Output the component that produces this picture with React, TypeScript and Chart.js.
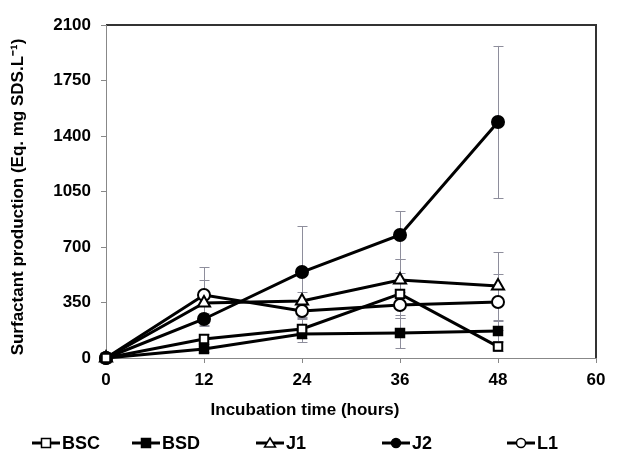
import React, { useEffect, useRef } from "react";
import { Chart, registerables } from "chart.js";

Chart.register(...registerables);

const hours = [0, 12, 24, 36, 48];
const yTicks = [0, 350, 700, 1050, 1400, 1750, 2100];
const xTicks = [0, 12, 24, 36, 48, 60];

const seriesNames = ["BSC", "BSD", "J1", "J2", "L1"];
const bscValues = [0, 120, 183, 404, 72];
const bscErrors = [0, 30, 60, 132, 30];
const bsdValues = [0, 57, 151, 158, 170];
const bsdErrors = [0, 20, 50, 95, 65];
const j1Values = [0, 347, 359, 492, 454];
const j1Errors = [0, 145, 57, 132, 214];
const j2Values = [0, 246, 542, 776, 1488];
const j2Errors = [0, 40, 290, 151, 480];
const l1Values = [0, 397, 296, 334, 353];
const l1Errors = [0, 175, 40, 82, 177];

const yTitle = "Surfactant production (Eq. mg SDS.L\u207B\u00B9)";
const xTitle = "Incubation time (hours)";

const FONT = "'Liberation Sans', Arial, sans-serif";

const styles = [
  { pointStyle: "rect", fill: "#ffffff" },
  { pointStyle: "rect", fill: "#000000" },
  { pointStyle: "triangle", fill: "#ffffff" },
  { pointStyle: "circle", fill: "#000000" },
  { pointStyle: "circle", fill: "#ffffff" },
];

const valuesList = [bscValues, bsdValues, j1Values, j2Values, l1Values];
const errorsList = [bscErrors, bsdErrors, j1Errors, j2Errors, l1Errors];

const errorBarPlugin = {
  id: "errorBars",
  beforeDatasetsDraw(chart: any) {
    const ctx = chart.ctx;
    const xs = chart.scales.x;
    const ys = chart.scales.y;
    ctx.save();
    ctx.strokeStyle = "#8e8e9c";
    ctx.lineWidth = 1;
    valuesList.forEach((vals, si) => {
      const errs = errorsList[si];
      vals.forEach((v, i) => {
        const e = errs[i];
        if (!e) return;
        const px = Math.round(xs.getPixelForValue(hours[i])) + 0.5;
        const top = ys.getPixelForValue(v + e);
        const bot = ys.getPixelForValue(v - e);
        ctx.beginPath();
        ctx.moveTo(px, top);
        ctx.lineTo(px, bot);
        ctx.moveTo(px - 5, Math.round(top) + 0.5);
        ctx.lineTo(px + 5, Math.round(top) + 0.5);
        ctx.moveTo(px - 5, Math.round(bot) + 0.5);
        ctx.lineTo(px + 5, Math.round(bot) + 0.5);
        ctx.stroke();
      });
    });
    ctx.restore();
  },
  beforeDraw(chart: any) {
    const ctx = chart.ctx;
    const { top, right, bottom, left } = chart.chartArea;
    ctx.save();
    ctx.strokeStyle = "#333333";
    ctx.lineWidth = 2;
    ctx.beginPath();
    ctx.moveTo(left, top);
    ctx.lineTo(right, top);
    ctx.lineTo(right, bottom);
    ctx.stroke();
    ctx.restore();
  },
  afterDraw(chart: any) {
    const ctx = chart.ctx;
    ctx.save();
    ctx.fillStyle = "#000";
    ctx.font = `bold 17px ${FONT}`;
    ctx.textAlign = "center";
    ctx.textBaseline = "middle";
    // x-axis title
    ctx.fillText(xTitle, 305, 410);
    // y-axis title
    ctx.save();
    ctx.translate(18, 197);
    ctx.rotate(-Math.PI / 2);
    ctx.fillText(yTitle, 0, 0);
    ctx.restore();

    // legend
    const starts = [32, 132, 256, 382, 507];
    const ly = 443;
    ctx.font = `bold 18px ${FONT}`;
    ctx.textBaseline = "middle";
    ctx.textAlign = "left";
    seriesNames.forEach((name, i) => {
      const x0 = starts[i];
      ctx.strokeStyle = "#000";
      ctx.lineWidth = 3;
      ctx.beginPath();
      ctx.moveTo(x0, ly);
      ctx.lineTo(x0 + 28, ly);
      ctx.stroke();
      const cx = x0 + 14;
      const st = styles[i];
      ctx.lineWidth = 1.5;
      ctx.fillStyle = st.fill;
      ctx.beginPath();
      if (st.pointStyle === "rect") {
        ctx.rect(cx - 4.5, ly - 4.5, 9, 9);
      } else if (st.pointStyle === "circle") {
        ctx.arc(cx, ly, 4.5, 0, Math.PI * 2);
      } else {
        ctx.moveTo(cx, ly - 5);
        ctx.lineTo(cx + 5.5, ly + 4);
        ctx.lineTo(cx - 5.5, ly + 4);
        ctx.closePath();
      }
      ctx.fill();
      ctx.stroke();
      ctx.fillStyle = "#000";
      ctx.fillText(name, x0 + 30, ly + 1);
    });
    ctx.restore();
  },
};

export default function App() {
  const ref = useRef<HTMLCanvasElement | null>(null);
  useEffect(() => {
    document.body.style.margin = "0";
    const canvas = ref.current!;
    const datasets = valuesList.map((vals, i) => ({
      label: seriesNames[i],
      data: vals.map((v, k) => ({ x: hours[k], y: v })),
      borderColor: "#000000",
      borderWidth: 3,
      pointStyle: styles[i].pointStyle,
      pointBackgroundColor: styles[i].fill,
      pointBorderColor: "#000000",
      pointBorderWidth: 2,
      pointRadius: styles[i].pointStyle === "triangle" ? 7 : 6,
      showLine: true,
      tension: 0,
      clip: false,
    }));
    const chart = new Chart(canvas, {
      type: "scatter",
      data: { datasets },
      options: {
        responsive: false,
        animation: false,
        layout: { padding: { left: 0, top: 25, right: 28, bottom: 35 } },
        plugins: { legend: { display: false }, tooltip: { enabled: false } },
        scales: {
          x: {
            type: "linear",
            min: 0,
            max: 60,
            afterBuildTicks: (s: any) => {
              s.ticks = xTicks.map((v) => ({ value: v }));
            },
            afterFit: (s: any) => {
              s.height = 66;
            },
            grid: { drawOnChartArea: false, drawTicks: true, tickLength: 5, color: "#888888" },
            border: { color: "#888888", width: 1 },
            ticks: {
              color: "#000",
              padding: 7,
              callback: (v: any) => String(v),
              font: { family: FONT, size: 17, weight: "bold" },
            },
            title: { display: false },
          },
          y: {
            type: "linear",
            min: 0,
            max: 2100,
            afterBuildTicks: (s: any) => {
              s.ticks = yTicks.map((v) => ({ value: v }));
            },
            afterFit: (s: any) => {
              s.width = 106;
            },
            grid: { drawOnChartArea: false, drawTicks: true, tickLength: 5, color: "#888888" },
            border: { color: "#888888", width: 1 },
            ticks: {
              color: "#000",
              padding: 10,
              callback: (v: any) => String(v),
              font: { family: FONT, size: 17, weight: "bold" },
            },
            title: { display: false },
          },
        },
      },
      plugins: [errorBarPlugin],
    });
    return () => chart.destroy();
  }, []);
  return <canvas ref={ref} width={624} height={459} style={{ display: "block" }} />;
}
